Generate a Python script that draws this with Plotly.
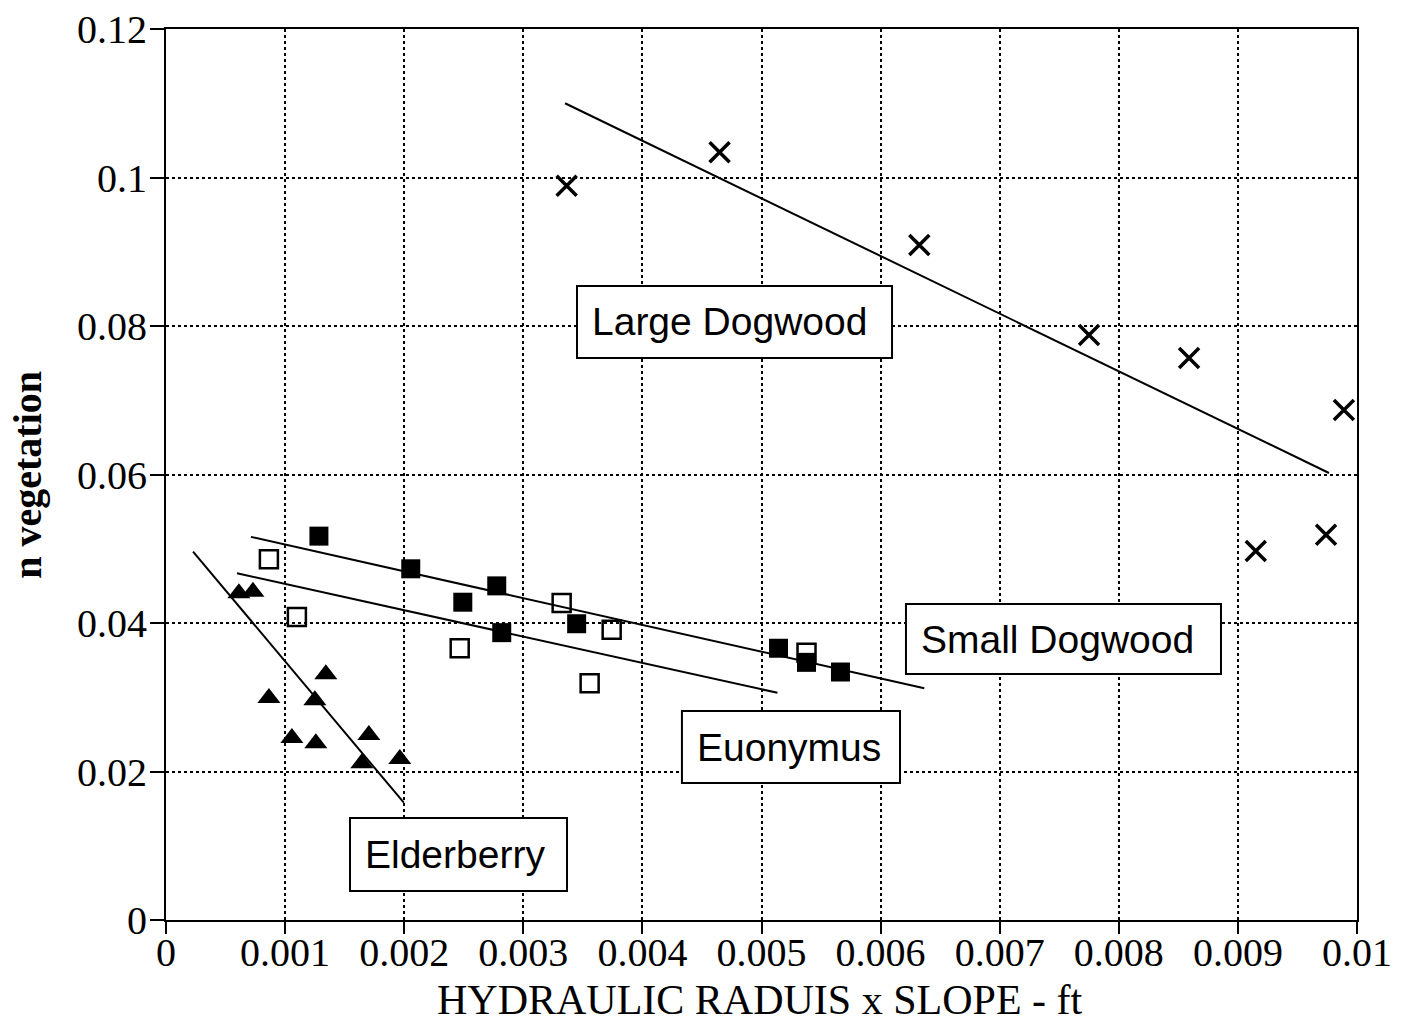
import plotly.graph_objects as go

# Large Dogwood (x markers)
large_x = [0.003364, 0.004648, 0.006325, 0.00775, 0.00859, 0.00989, 0.00915, 0.00974]
large_y = [0.0989, 0.1034, 0.0909, 0.0788, 0.0757, 0.0687, 0.0497, 0.0519]
large_fit_x = [0.00335, 0.009765]
large_fit_y = [0.1100, 0.0602]

# Small Dogwood (filled squares)
small_x = [0.001284, 0.002055, 0.002777, 0.002492, 0.002819, 0.003448, 0.005143, 0.005378, 0.005663]
small_y = [0.0517, 0.0473, 0.0450, 0.0428, 0.0387, 0.0399, 0.0366, 0.0347, 0.0334]
small_fit_x = [0.000713, 0.006367]
small_fit_y = [0.0516, 0.0312]

# Euonymus (open squares)
euon_x = [0.000864, 0.001099, 0.003322, 0.002466, 0.003742, 0.003557, 0.005378]
euon_y = [0.0486, 0.0408, 0.0427, 0.0366, 0.0391, 0.0319, 0.0360]
euon_fit_x = [0.000596, 0.005134]
euon_fit_y = [0.0467, 0.0306]

# Elderberry (filled triangles)
elder_x = [0.000612, 0.000730, 0.000864, 0.001057, 0.001250, 0.001258, 0.001342, 0.001644, 0.001703, 0.001963]
elder_y = [0.0440, 0.0442, 0.0299, 0.0245, 0.0296, 0.0238, 0.0331, 0.0211, 0.0249, 0.0217]
elder_fit_x = [0.000227, 0.001997]
elder_fit_y = [0.0496, 0.0158]

x_ticks = [0, 0.001, 0.002, 0.003, 0.004, 0.005, 0.006, 0.007, 0.008, 0.009, 0.01]
x_tick_text = ["0", "0.001", "0.002", "0.003", "0.004", "0.005", "0.006", "0.007", "0.008", "0.009", "0.01"]
y_ticks = [0, 0.02, 0.04, 0.06, 0.08, 0.1, 0.12]
y_tick_text = ["0", "0.02", "0.04", "0.06", "0.08", "0.1", "0.12"]

x_title = "HYDRAULIC RADUIS x SLOPE - ft"
y_title = "n vegetation"

# Species label boxes: (text, x0, x1, y0, y1)
labels = [
    ("Large Dogwood", 0.003451, 0.006096, 0.07569, 0.08539),
    ("Small Dogwood", 0.006213, 0.008858, 0.03313, 0.04256),
    ("Euonymus", 0.004332, 0.006163, 0.01845, 0.02815),
    ("Elderberry", 0.001545, 0.003367, 0.003906, 0.01374),
]

SERIF = "Liberation Serif, Times New Roman, serif"

fig = go.Figure()

line_style = dict(color="black", width=2)
for fx, fy in [(large_fit_x, large_fit_y), (small_fit_x, small_fit_y),
               (euon_fit_x, euon_fit_y), (elder_fit_x, elder_fit_y)]:
    fig.add_trace(go.Scatter(x=fx, y=fy, mode="lines", line=line_style,
                             showlegend=False, hoverinfo="skip"))

fig.add_trace(go.Scatter(
    x=large_x, y=large_y, mode="markers", name="Large Dogwood",
    marker=dict(symbol="x-thin", size=20, line=dict(color="black", width=3.5)),
))
fig.add_trace(go.Scatter(
    x=euon_x, y=euon_y, mode="markers", name="Euonymus",
    marker=dict(symbol="square-open", size=18, color="black", line=dict(width=2.5)),
))
fig.add_trace(go.Scatter(
    x=small_x, y=small_y, mode="markers", name="Small Dogwood",
    marker=dict(symbol="square", size=19, color="black"),
))
fig.add_trace(go.Scatter(
    x=elder_x, y=elder_y, mode="markers", name="Elderberry",
    marker=dict(symbol="triangle-up", size=20, color="black"),
))

for text, x0, x1, y0, y1 in labels:
    fig.add_shape(type="rect", x0=x0, x1=x1, y0=y0, y1=y1, xref="x", yref="y",
                  line=dict(color="black", width=2), fillcolor="white", layer="above")
    fig.add_annotation(x=x0, y=(y0 + y1) / 2, xref="x", yref="y", text=text,
                       showarrow=False, xanchor="left", yanchor="middle", xshift=13,
                       font=dict(family="Liberation Sans, Arial, sans-serif", size=39, color="black"))

# Axis titles drawn as paper-anchored text
fig.add_annotation(x=0.4987, y=-0.090, xref="paper", yref="paper", text=x_title,
                   showarrow=False, xanchor="center", yanchor="middle",
                   font=dict(family=SERIF, size=42, color="black"))
fig.add_annotation(x=-0.1165, y=0.5, xref="paper", yref="paper", text=f"<b>{y_title}</b>",
                   showarrow=False, xanchor="center", yanchor="middle", textangle=-90,
                   font=dict(family=SERIF, size=40, color="black"))

axis_common = dict(
    showgrid=True, gridcolor="black", griddash="dot", gridwidth=1.5,
    showline=True, linecolor="black", linewidth=2, mirror=True,
    ticks="outside", tickcolor="black", tickwidth=2,
    zeroline=False, automargin=False,
    tickfont=dict(family=SERIF, size=40, color="black"),
)

fig.update_xaxes(
    range=[0, 0.01], tickvals=x_ticks, ticktext=x_tick_text, ticklen=12,
    ticklabelstandoff=-16,
    **axis_common,
)
fig.update_yaxes(
    range=[0, 0.12], tickvals=y_ticks, ticktext=y_tick_text, ticklen=14,
    ticklabelstandoff=-5,
    **axis_common,
)

fig.update_layout(
    width=1410, height=1023,
    margin=dict(l=166, r=53, t=29, b=103),
    plot_bgcolor="white", paper_bgcolor="white",
    showlegend=False,
)

fig.write_html("out.html")
